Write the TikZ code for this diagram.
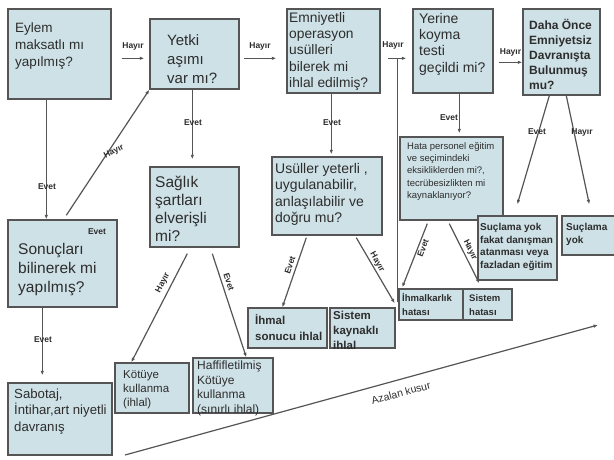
\documentclass[tikz,border=0pt]{standalone}
\usepackage{fontspec}
\setmainfont{Liberation Sans}
\usetikzlibrary{arrows.meta,calc,fit}
\definecolor{boxfill}{RGB}{206,225,231}
\definecolor{boxline}{RGB}{85,85,85}
\definecolor{txtc}{RGB}{45,45,45}
\newcommand\fs[2]{\fontsize{#1}{#2}\selectfont}
\newcommand\qb[6]{%
  \node[qbox, fit={(#2) (#3)}] (#1) {};
  \node[qtxt, font=#5] (#1t) at (#4) {#6};}
\begin{document}
\begin{tikzpicture}[x=1pt,y=-1pt,
  qbox/.style={draw=boxline, line width=1.4pt, fill=boxfill, inner sep=0pt},
  qtxt/.style={anchor=north west, inner sep=0pt, align=left, text=txtc},
  conn/.style={draw=boxline, line width=1.2pt},
  arr/.style={conn, -{Latex[length=4.5pt,width=3.5pt]}},
  lbl/.style={font=\bfseries\fs{8.5}{9}, text=txtc, inner sep=0pt}]
\fill[white] (0,0) rectangle (614,459);
\useasboundingbox (0,0) rectangle (614,459);

% boxes
\qb{e1}{8,9}{111,99}{15,23}{\fs{13.5}{17}}{Eylem\\maksatlı mı\\yapılmış?}
\qb{e2}{150,19}{239,89}{167,34.5}{\fs{15}{19}}{Yetki\\aşımı\\var mı?}
\qb{e3}{287,9}{380,93}{289,12}{\fs{13.8}{16.3}}{Emniyetli\\operasyon\\usülleri\\bilerek mi\\ihlal edilmiş?}
\qb{e4}{413,9}{493,93}{419,13}{\fs{14}{16.3}}{Yerine\\koyma\\testi\\geçildi mi?}
\qb{e5}{523,9}{600,95}{529,19.5}{\bfseries\fs{12}{14.8}}{Daha Önce\\Emniyetsiz\\Davranışta\\Bulunmuş\\mu?}
\qb{e6}{8,220}{117,307}{18,243}{\fs{15.5}{19}}{Sonuçları\\bilinerek mi\\yapılmış?}
\qb{e7}{150,167}{239,247}{155,176}{\fs{15.5}{18}}{Sağlık\\şartları\\elverişli\\mi?}
\qb{e8}{272,157}{382,235}{275,163}{\fs{14}{16.5}}{Usüller yeterli ,\\uygulanabilir,\\anlaşılabilir ve\\doğru mu?}
\qb{e9}{400,137}{503,220}{407,142}{\fs{9.5}{12.3}}{Hata personel eğitim\\ve seçimindeki\\eksikliklerden mi?,\\tecrübesizlikten mi\\kaynaklanıyor?}
\qb{e10}{478,216}{557,280}{480,223}{\bfseries\fs{10}{12.7}}{Suçlama yok\\fakat danışman\\atanması veya\\fazladan eğitim}
\qb{e11}{562,216}{616,255}{566,223}{\bfseries\fs{10}{12.7}}{Suçlama\\yok}
\qb{e12}{399,289}{463,320}{402,293}{\bfseries\fs{9.5}{14}}{İhmalkarlık\\hatası}
\qb{e13}{463,289}{512,320}{469,294.5}{\bfseries\fs{9.5}{14}}{Sistem\\hatası}
\qb{e14}{248,308}{327,348}{255,314}{\bfseries\fs{11.5}{16}}{İhmal\\sonucu ihlal}
\qb{e15}{330,308}{395,348}{333,310.7}{\bfseries\fs{11.5}{15}}{Sistem\\kaynaklı\\ihlal}
\qb{e16}{115,363}{189,413}{123,370.7}{\fs{11.5}{14}}{Kötüye\\kullanma\\(ihlal)}
\qb{e17}{193,358}{273,413}{197,360.6}{\fs{12}{14.5}}{Haffifletilmiş\\Kötüye\\kullanma\\(sınırlı ihlal)}
\qb{e18}{8,383}{112,455}{14,388.5}{\fs{13.2}{16.5}}{Sabotaj,\\İntihar,art niyetli\\davranış}
\node[lbl] (e6e) at (97,232) {Evet};

% horizontal Hayır arrows
\draw[arr] ($(e1.north east)+(10,50)$) -- node[lbl, above=7pt] (l1) {Hayır} ($(e2.north west)+(-5,40)$);
\draw[arr] ($(e2.north east)+(4,40)$) -- node[lbl, above=7pt] (l2) {Hayır} ($(e3.north west)+(-10,50)$);
\draw[arr] ($(e3.north east)+(7,50)$) -- ($(e4.north west)+(-6,50)$);
\node[lbl] (l3) at (393,45) {Hayır};
\draw[conn] ($(e15.north east)+(2,-5)$) -- ($(e3.north east)+(17,50)$);
\draw[arr] ($(e4.north east)+(5,54)$) -- node[lbl, above=5pt] (l4) {Hayır} ($(e5.north west)+(0,54)$);

% vertical Evet arrows
\draw[arr] ($(e1.south west)+(39,0)$) -- ($(e6.north west)+(39,0)$);
\node[lbl] (l5) at (47,187) {Evet};
\draw[arr] ($(e2.south west)+(43,0)$) -- ($(e7.north west)+(43,-7)$);
\node[lbl] (l6) at (193,123) {Evet};
\draw[arr] ($(e3.south west)+(45,0)$) -- ($(e8.north west)+(60,-2)$);
\node[lbl] (l7) at (332,123) {Evet};
\draw[arr] ($(e4.south west)+(47,0)$) -- ($(e9.north west)+(60,-3)$);
\node[lbl] (l8) at (449,118) {Evet};
\draw[arr] ($(e6.south west)+(35,0)$) -- ($(e18.north west)+(35,-7)$);
\node[lbl] (l9) at (43,340) {Evet};

% slanted
\draw[arr] ($(e6.north west)+(59,-4)$) -- (e2.south west);
\node[lbl, rotate=28] (l10) at (114,152) {Hayır};
\draw[arr] ($(e5.south west)+(27,0)$) -- ($(e10.north west)+(40,-11)$);
\node[lbl] (l11) at (537,132) {Evet};
\draw[arr] ($(e5.south west)+(44,0)$) -- ($(e11.north west)+(28,-11)$);
\node[lbl] (l12) at (582,132) {Hayır};
\draw[arr] ($(e7.south west)+(38,6)$) -- ($(e16.north west)+(17,0)$);
\node[lbl, rotate=63] (l13) at (163,283) {Hayır};
\draw[arr] ($(e7.south west)+(63,6)$) -- ($(e17.north west)+(54,0)$);
\node[lbl, rotate=-72] (l14) at (229,282) {Evet};
\draw[arr] ($(e8.south west)+(35,2)$) -- ($(e14.north west)+(35,0)$);
\node[lbl, rotate=71] (l15) at (290,265) {Evet};
\draw[arr] ($(e8.south west)+(85,2)$) -- ($(e15.north east)+(-1,-4)$);
\node[lbl, rotate=-61] (l16) at (377,262) {Hayır};
\draw[arr] ($(e9.south west)+(28,3)$) -- ($(e12.north west)+(4,-1)$);
\node[lbl, rotate=69] (l17) at (423,248) {Evet};
\draw[arr] ($(e9.south west)+(50,3)$) -- ($(e13.north west)+(17,-5)$);
\node[lbl, rotate=-64] (l18) at (470,250) {Hayır};

% Azalan kusur
\coordinate (az1) at (125,455);
\coordinate (az2) at (598,325);
\draw[arr] (az1) -- (az2);
\node[font=\fs{10.5}{12}, text=txtc, rotate=15.4, inner sep=0pt] (az) at (401,393) {Azalan kusur};
\end{tikzpicture}
\end{document}
